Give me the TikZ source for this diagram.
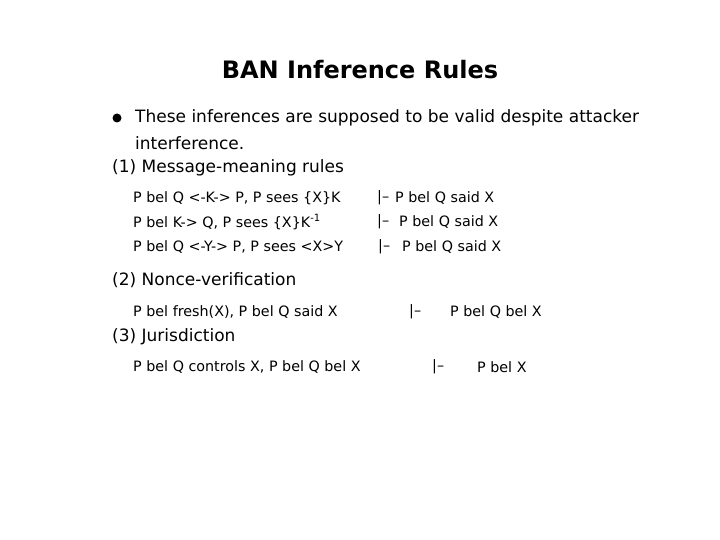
\documentclass[tikz,border=0pt]{standalone}
\usepackage{fontspec}
\setmainfont{DejaVu Sans}
\begin{document}
\begin{tikzpicture}[x=1pt,y=-1pt,
 t/.style={anchor=west,inner sep=0pt,font=\fontsize{17}{20}\selectfont},
 r/.style={anchor=west,inner sep=0pt,font=\fontsize{14.3}{17}\selectfont}]
\useasboundingbox (0,0) rectangle (720,540);
\node[inner sep=0pt,font=\fontsize{24}{28}\selectfont\bfseries] (title) at (360,70) {BAN Inference Rules};
\fill (117,118) circle (4.5) coordinate (bul);
\node[t] (b1) at (135,118) {These inferences are supposed to be valid despite attacker};
\node[t] (b2) at (135,143) {interference.};
\node[t] (h1) at (112,168) {(1) Message-meaning rules};
\node[r] (a1) at (133,198) {P bel Q <-K-> P, P sees \{X\}K};
\node[r] (s1) at (377,198) {|–};
\node[r] (c1) at (395,198) {P bel Q said X};
\node[r] (a2) at (133,222) {P bel K-> Q, P sees \{X\}K\textsuperscript{-1}};
\node[r] (s2) at (377,222) {|–};
\node[r] (c2) at (399,222) {P bel Q said X};
\node[r] (a3) at (133,247) {P bel Q <-Y-> P, P sees <X>Y};
\node[r] (s3) at (378,247) {|–};
\node[r] (c3) at (402,247) {P bel Q said X};
\node[t] (h2) at (112,280) {(2) Nonce-verification};
\node[r] (a4) at (133,312) {P bel fresh(X), P bel Q said X};
\node[r] (s4) at (409,312) {|–};
\node[r] (c4) at (450,312) {P bel Q bel X};
\node[t] (h3) at (112,337) {(3) Jurisdiction};
\node[r] (a5) at (133,367) {P bel Q controls X, P bel Q bel X};
\node[r] (s5) at (432,367) {|–};
\node[r] (c5) at (477,367) {P bel X};
\end{tikzpicture}
\end{document}
